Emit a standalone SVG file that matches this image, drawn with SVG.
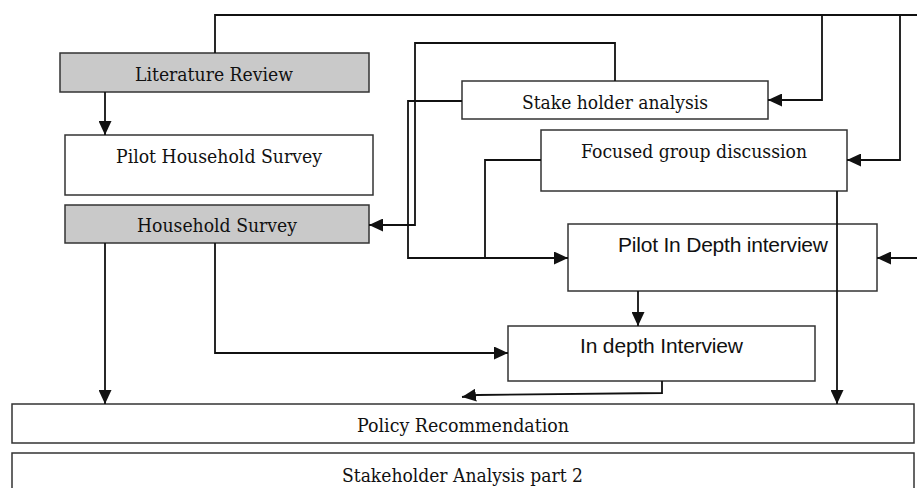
<svg xmlns="http://www.w3.org/2000/svg" width="917" height="488" viewBox="0 0 917 488">
<style>
.box{fill:#fff;stroke:#333;stroke-width:1.5}
.gray{fill:#c9c9c9}
.t{font-family:"DejaVu Serif","Liberation Serif",serif;font-size:19px;fill:#111}
.s{font-family:"Liberation Sans",Arial,sans-serif;font-size:21px;fill:#111}
.c{fill:none;stroke:#111;stroke-width:1.8}
</style>
<defs>
<marker id="ah" markerUnits="userSpaceOnUse" markerWidth="15" markerHeight="13" refX="14" refY="6.5" orient="auto">
<path d="M0,0 L14,6.5 L0,13 Z" fill="#111"/>
</marker>
</defs>
<rect width="917" height="488" fill="#fff"/>
<g id="literature-review">
<rect class="box gray" x="60" y="53" width="309" height="39"/>
<text class="t" x="135" y="81" textLength="158" lengthAdjust="spacingAndGlyphs">Literature Review</text>
</g>
<g id="pilot-household-survey">
<rect class="box" x="65" y="135" width="308" height="60"/>
<text class="t" x="116" y="163" textLength="206" lengthAdjust="spacingAndGlyphs">Pilot Household Survey</text>
</g>
<g id="household-survey">
<rect class="box gray" x="65" y="205" width="304" height="38"/>
<text class="t" x="137" y="232" textLength="160" lengthAdjust="spacingAndGlyphs">Household Survey</text>
</g>
<g id="stake-holder-analysis">
<rect class="box" x="462" y="81" width="306" height="38"/>
<text class="t" x="522" y="109" textLength="186" lengthAdjust="spacingAndGlyphs">Stake holder analysis</text>
</g>
<g id="focused-group-discussion">
<rect class="box" x="541" y="130" width="306" height="61"/>
<text class="t" x="581" y="158" textLength="226" lengthAdjust="spacingAndGlyphs">Focused group discussion</text>
</g>
<g id="pilot-in-depth-interview">
<rect class="box" x="568" y="224" width="309" height="67"/>
<text class="s" x="618" y="252" textLength="210">Pilot In Depth interview</text>
</g>
<g id="in-depth-interview">
<rect class="box" x="508" y="326" width="307" height="55"/>
<text class="s" x="580" y="353" textLength="163">In depth Interview</text>
</g>
<g id="policy-recommendation">
<rect class="box" x="12" y="404" width="902" height="39"/>
<text class="t" x="357" y="432" textLength="212" lengthAdjust="spacingAndGlyphs">Policy Recommendation</text>
</g>
<g id="stakeholder-analysis-2">
<rect class="box" x="12" y="453" width="902" height="40"/>
<text class="t" x="342" y="482" textLength="241" lengthAdjust="spacingAndGlyphs">Stakeholder Analysis part 2</text>
</g>
<g id="connectors">
<path class="c" d="M105,92 V135" marker-end="url(#ah)"/>
<path class="c" d="M215,53 V15 H917"/>
<path class="c" d="M822,15 V100 H768" marker-end="url(#ah)"/>
<path class="c" d="M900,15 V160 H847" marker-end="url(#ah)"/>
<path class="c" d="M917,258 H877" marker-end="url(#ah)"/>
<path class="c" d="M615,81 V43 H415 V225 H369" marker-end="url(#ah)"/>
<path class="c" d="M462,101 H408 V258 H568" marker-end="url(#ah)"/>
<path class="c" d="M541,160 H485 V258"/>
<path class="c" d="M837,191 V404" marker-end="url(#ah)"/>
<path class="c" d="M638,291 V326" marker-end="url(#ah)"/>
<path class="c" d="M105,243 V404" marker-end="url(#ah)"/>
<path class="c" d="M215,243 V353 H508" marker-end="url(#ah)"/>
<path class="c" d="M662,381 V393 L477,395 L462,397" marker-end="url(#ah)"/>
</g>
</svg>
